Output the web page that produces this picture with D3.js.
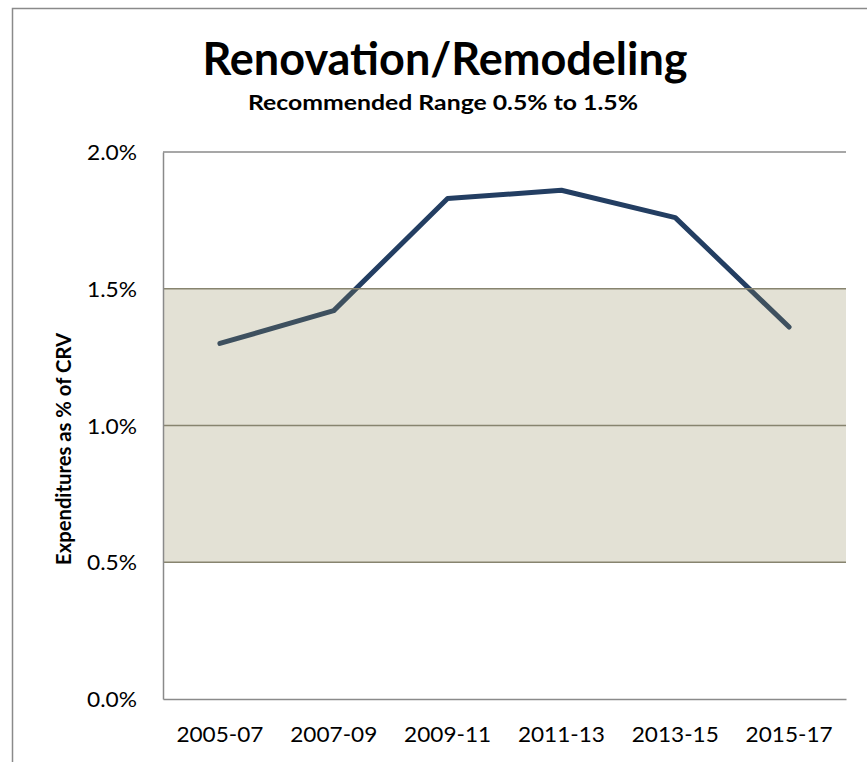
<!DOCTYPE html>
<html>
<head>
<meta charset="utf-8">
<script src="https://cdn.jsdelivr.net/npm/d3@7"></script>
<style>
  body { margin: 0; background: #fff; }
  text { font-family: Lato, "Open Sans", sans-serif; fill: #000; }
</style>
</head>
<body>
<script>
// chart data
var periods = ["2005-07", "2007-09", "2009-11", "2011-13", "2013-15", "2015-17"];
var spending = [1.30, 1.42, 1.83, 1.86, 1.76, 1.36];
var yTicks = [0, 0.5, 1.0, 1.5, 2.0];
var rangeLow = 0.5, rangeHigh = 1.5;

var W = 867, H = 762;
var margin = {top: 152, right: 21, bottom: 63, left: 163},
    width = W - margin.left - margin.right,
    height = H - margin.top - margin.bottom;

var svg = d3.select("body").append("svg")
    .attr("width", W)
    .attr("height", H);

// outer chart frame
svg.append("path")
    .attr("d", "M12.5," + H + "V8.5H" + W)
    .attr("fill", "none")
    .attr("stroke", "#8a8a8a")
    .attr("stroke-width", 1.5);

var g = svg.append("g")
    .attr("transform", "translate(" + margin.left + "," + margin.top + ")");

var x = d3.scaleBand().domain(periods).range([0, width]).padding(0);
var y = d3.scaleLinear().domain([0, 2]).range([height, 0]);

// gridline at the top
g.append("line")
    .attr("x1", 0).attr("x2", width)
    .attr("y1", y(2)).attr("y2", y(2))
    .attr("stroke", "#8a8a8a").attr("stroke-width", 1.3);

// data line
var line = d3.line()
    .x(function (d, i) { return x(periods[i]) + x.bandwidth() / 2; })
    .y(function (d) { return y(d); });

g.append("path")
    .datum(spending)
    .attr("fill", "none")
    .attr("stroke", "#233e62")
    .attr("stroke-width", 5)
    .attr("stroke-linecap", "round")
    .attr("stroke-linejoin", "round")
    .attr("d", line);

// recommended range band drawn on top, semi-transparent
g.append("rect")
    .attr("x", 0)
    .attr("y", y(rangeHigh))
    .attr("width", width)
    .attr("height", y(rangeLow) - y(rangeHigh))
    .attr("fill", "rgb(142,134,86)")
    .attr("fill-opacity", 0.25);

// gridlines inside band
g.selectAll(".grid")
    .data(yTicks.filter(function (d) { return d > 0 && d < 2; }))
    .enter().append("line")
    .attr("x1", 0).attr("x2", width)
    .attr("y1", function (d) { return y(d); })
    .attr("y2", function (d) { return y(d); })
    .attr("stroke", "#87846f")
    .attr("stroke-width", 1.5);

// axes
var yAxis = g.append("g")
    .call(d3.axisLeft(y).tickValues(yTicks).tickSize(0).tickPadding(26)
        .tickFormat(function (d) { return d.toFixed(1) + "%"; }));
yAxis.select(".domain").attr("stroke", "#8a8a8a").attr("stroke-width", 1.5);
yAxis.selectAll("text").style("font-size", "22px")
    .attr("dy", "0.35em")
    .attr("textLength", 50).attr("lengthAdjust", "spacingAndGlyphs");

var xAxis = g.append("g")
    .attr("transform", "translate(0," + height + ")")
    .call(d3.axisBottom(x).tickSize(0).tickPadding(27));
xAxis.select(".domain").attr("stroke", "#8a8a8a").attr("stroke-width", 1.5);
xAxis.selectAll("text").style("font-size", "22px")
    .attr("textLength", 87).attr("lengthAdjust", "spacingAndGlyphs");

// titles
svg.append("text")
    .attr("x", 445).attr("y", 75)
    .attr("text-anchor", "middle")
    .style("font-size", "45px").style("font-weight", "bold")
    .text("Renovation/Remodeling");

svg.append("text")
    .attr("x", 443).attr("y", 110)
    .attr("text-anchor", "middle")
    .attr("textLength", 390).attr("lengthAdjust", "spacingAndGlyphs")
    .style("font-size", "21px").style("font-weight", "bold")
    .text("Recommended Range 0.5% to 1.5%");

svg.append("text")
    .attr("transform", "translate(71,449) rotate(-90)")
    .attr("text-anchor", "middle")
    .attr("textLength", 232).attr("lengthAdjust", "spacingAndGlyphs")
    .style("font-size", "21px").style("font-weight", "bold")
    .text("Expenditures as % of CRV");
</script>
</body>
</html>
